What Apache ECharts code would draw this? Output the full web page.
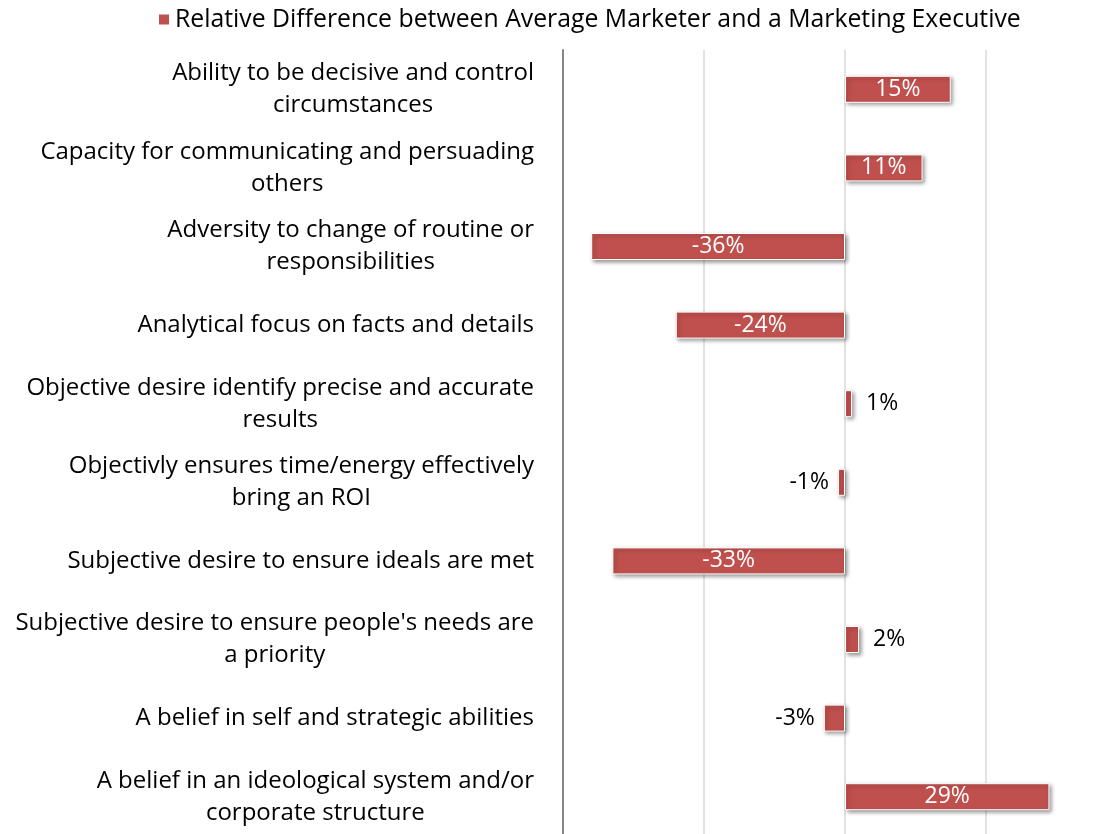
<!DOCTYPE html>
<html lang="en">
<head>
    <meta charset="UTF-8">
    <title>Marketer vs Executive</title>
    <script src="https://cdn.jsdelivr.net/npm/echarts@6/dist/echarts.min.js"></script>
</head>
<style>
    *{
        margin: 0;
        padding: 0;
    }
    html,body{
        width: 100%;
        height: 100%;
        overflow: hidden;
        background: #fff;
    }
    .container{
        width: 1118px;
        height: 834px;
    }
</style>
<body>
<div class="container"></div>
<script>
    let categories = [
        'Ability to be decisive and control\ncircumstances',
        'Capacity for communicating and persuading\nothers',
        'Adversity to change of routine or\nresponsibilities',
        'Analytical focus on facts and details',
        'Objective desire identify precise and accurate\nresults',
        'Objectivly ensures time/energy effectively\nbring an ROI',
        'Subjective desire to ensure ideals are met',
        "Subjective desire to ensure people's needs are\na priority",
        'A belief in self and strategic abilities',
        'A belief in an ideological system and/or\ncorporate structure'
    ];
    let values = [15, 11, -36, -24, 1, -1, -33, 2, -3, 29];
    let seriesName = 'Relative Difference between Average Marketer and a Marketing Executive';

    let font = 'Open Sans';
    let container = document.querySelector('.container');
    let mycharts = echarts.init(container);

    // small bars get their label outside, dark
    let data = values.map(v => {
        let item = {value: v};
        if (Math.abs(v) < 5) {
            item.label = {
                position: v >= 0 ? 'right' : 'left',
                color: '#000',
                distance: v >= 0 ? 14 : 9
            };
        }
        return item;
    });

    let option = {
        legend: {
            data: [seriesName],
            left: 152,
            top: 2,
            icon: 'rect',
            itemWidth: 12,
            itemHeight: 12,
            itemGap: 8,
            textStyle: {fontFamily: font, fontSize: 24.8, color: '#000'}
        },
        grid: {
            left: 563,
            width: 564,
            top: 50,
            height: 786,
            outerBoundsMode: 'none',
            containLabel: false
        },
        xAxis: {
            type: 'value',
            min: -40,
            max: 40,
            interval: 20,
            axisLabel: {show: false},
            axisLine: {show: false},
            axisTick: {show: false},
            splitLine: {lineStyle: {color: '#d9d9d9', width: 1.5}}
        },
        yAxis: {
            type: 'category',
            inverse: true,
            data: categories,
            axisTick: {show: false},
            axisLine: {show: true, onZero: false, lineStyle: {color: '#868686', width: 2}},
            axisLabel: {
                margin: 29,
                color: '#000',
                fontFamily: font,
                fontSize: 24,
                lineHeight: 32,
                formatter: function (v) {
                    return v.split('\n').map(l => '{c|' + l + '}').join('\n');
                },
                rich: {
                    c: {align: 'center', fontFamily: font, fontSize: 24, lineHeight: 32, color: '#000'}
                }
            }
        },
        series: [{
            name: seriesName,
            type: 'bar',
            data: data,
            barWidth: 27,
            itemStyle: {
                color: '#c0504d',
                borderColor: '#fff',
                borderWidth: 1,
                shadowColor: 'rgba(0,0,0,0.4)',
                shadowBlur: 4,
                shadowOffsetX: 2,
                shadowOffsetY: 2
            },
            label: {
                show: true,
                position: 'inside',
                color: '#fff',
                fontFamily: font,
                fontSize: 23,
                formatter: '{c}%'
            }
        }]
    };

    mycharts.setOption(option);
</script>
</body>
</html>
